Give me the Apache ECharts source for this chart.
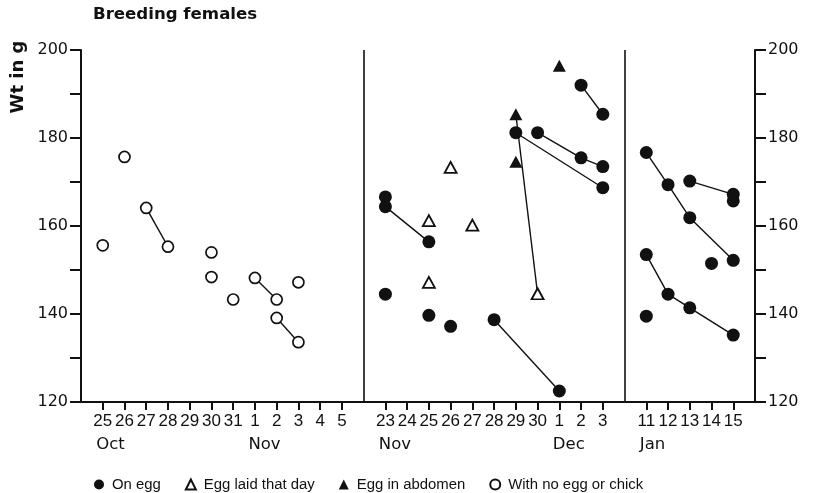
<!DOCTYPE html>
<html>
<head>
<meta charset="utf-8">
<script src="https://cdn.jsdelivr.net/npm/echarts@6/dist/echarts.min.js"></script>
<style>
html,body{margin:0;padding:0;background:#fff;}
#chart{width:813px;height:493px;}
</style>
</head>
<body>
<div id="chart"></div>
<script>
// ---- Data ----
const octNovDays = ['Oct 25','Oct 26','Oct 27','Oct 28','Oct 29','Oct 30','Oct 31','Nov 1','Nov 2','Nov 3','Nov 4','Nov 5'];
const novDecDays = ['Nov 23','Nov 24','Nov 25','Nov 26','Nov 27','Nov 28','Nov 29','Nov 30','Dec 1','Dec 2','Dec 3'];
const janDays = ['Jan 11','Jan 12','Jan 13','Jan 14','Jan 15'];
const monthNames = ['Oct','Nov','Nov','Dec','Jan'];
const monthAnchors = ['Oct 25','Nov 1','Nov 23','Dec 1','Jan 11'];
const yTicks = [120, 140, 160, 180, 200];
const yTickMarks = [120, 130, 140, 150, 160, 170, 180, 190, 200];

const onEgg = [
  ['Nov 23',166.6],['Nov 23',164.4],['Nov 23',144.5],['Nov 25',156.4],['Nov 25',139.7],
  ['Nov 26',137.2],['Nov 28',138.7],['Nov 29',181.2],['Nov 30',181.2],['Dec 1',122.5],
  ['Dec 2',192.0],['Dec 2',175.5],['Dec 3',185.4],['Dec 3',173.5],['Dec 3',168.7],
  ['Jan 11',176.7],['Jan 11',153.5],['Jan 11',139.5],['Jan 12',169.4],['Jan 12',144.5],
  ['Jan 13',170.2],['Jan 13',161.9],['Jan 13',141.4],['Jan 14',151.5],
  ['Jan 15',167.2],['Jan 15',165.7],['Jan 15',152.2],['Jan 15',135.2]
];
const eggLaid = [['Nov 25',161.2],['Nov 25',147.2],['Nov 26',173.3],['Nov 27',160.2],['Nov 30',144.6]];
const eggAbdomen = [['Nov 29',185.4],['Nov 29',174.6],['Dec 1',196.4]];
const noEgg = [
  ['Oct 25',155.6],['Oct 26',175.7],['Oct 27',164.1],['Oct 28',155.3],['Oct 30',154.0],
  ['Oct 30',148.4],['Oct 31',143.3],['Nov 1',148.2],['Nov 2',143.3],['Nov 2',139.1],
  ['Nov 3',147.2],['Nov 3',133.6]
];
const tracks = [
  [['Oct 27',164.1],['Oct 28',155.3]],
  [['Nov 1',148.2],['Nov 2',143.3]],
  [['Nov 2',139.1],['Nov 3',133.6]],
  [['Nov 23',164.4],['Nov 25',156.4]],
  [['Nov 28',138.7],['Dec 1',122.5]],
  [['Nov 29',185.4],['Nov 30',144.6]],
  [['Nov 29',181.2],['Dec 3',168.7]],
  [['Nov 30',181.2],['Dec 2',175.5],['Dec 3',173.5]],
  [['Dec 2',192.0],['Dec 3',185.4]],
  [['Jan 11',176.7],['Jan 12',169.4],['Jan 13',161.9],['Jan 15',152.2]],
  [['Jan 13',170.2],['Jan 15',167.2]],
  [['Jan 11',153.5],['Jan 12',144.5],['Jan 13',141.4],['Jan 15',135.2]]
];

// ---- Build slot scale (panels separated by one empty slot) ----
const panels = [octNovDays, novDecDays, janDays];
const slotOf = {};
const slotLabel = {};
const separators = [];
let s = 1;
panels.forEach((p, i) => {
  p.forEach(d => { slotOf[d] = s; slotLabel[s] = d.split(' ')[1]; s++; });
  if (i < panels.length - 1) separators.push(s);
  s++;
});
const xMax = s - 1;
const tickSlots = Object.keys(slotLabel).map(Number);
const MONTH_SHIFT = -0.3;
const monthSlots = monthAnchors.map(d => slotOf[d] + MONTH_SHIFT);
const conv = arr => arr.map(([d, v]) => [slotOf[d], v]);

const BLACK = '#111';
const chart = echarts.init(document.getElementById('chart'), null, {renderer: 'canvas'});

const yAxisCommon = {
  type: 'value', min: 120, max: 200, interval: 20,
  axisLine: {show: true, onZero: false, lineStyle: {color: BLACK, width: 2}},
  axisTick: {show: true, inside: false, length: 11, lineStyle: {color: BLACK, width: 2}, customValues: yTickMarks},
  minorTick: {show: false},
  splitLine: {show: false},
  axisLabel: {color: BLACK, fontFamily: 'DejaVu Sans', fontSize: 16, margin: 13,
    customValues: yTicks}
};

const series = [];
tracks.forEach(t => {
  series.push({
    type: 'line', data: conv(t), showSymbol: false, symbol: 'none', silent: true, z: 1,
    lineStyle: {color: BLACK, width: 1.4}, animation: false
  });
});
series[0].markLine = {
  silent: true, symbol: 'none', label: {show: false},
  lineStyle: {color: BLACK, width: 1.6, type: 'solid'},
  data: separators.map(v => ({xAxis: v}))
};
series.push({
  name: 'On egg', type: 'scatter', data: conv(onEgg), symbol: 'circle', symbolSize: 13, z: 3,
  itemStyle: {color: BLACK, opacity: 1}
});
series.push({
  name: 'Egg laid that day', type: 'scatter', data: conv(eggLaid), symbol: 'triangle', symbolSize: [12, 11], z: 3,
  itemStyle: {color: '#fff', borderColor: BLACK, borderWidth: 1.8, opacity: 1}
});
series.push({
  name: 'Egg in abdomen', type: 'scatter', data: conv(eggAbdomen), symbol: 'triangle', symbolSize: [13, 12], z: 3,
  itemStyle: {color: BLACK, opacity: 1}
});
series.push({
  name: 'With no egg or chick', type: 'scatter', data: conv(noEgg), symbol: 'circle', symbolSize: 11, z: 3,
  itemStyle: {color: '#fff', borderColor: BLACK, borderWidth: 1.7, opacity: 1}
});

const option = {
  animation: false,
  backgroundColor: '#fff',
  grid: {left: 81, right: 58, top: 50, bottom: 91, containLabel: false},
  xAxis: [{
    type: 'value', min: 0, max: xMax,
    axisLine: {show: true, onZero: false, lineStyle: {color: BLACK, width: 2}},
    axisTick: {show: true, inside: false, length: 8, lineStyle: {color: BLACK, width: 2}, customValues: tickSlots},
    axisLabel: {color: BLACK, fontFamily: 'Liberation Sans', fontSize: 17, margin: 11,
      customValues: tickSlots, formatter: v => slotLabel[Math.round(v)] || ''},
    splitLine: {show: false}
  }, {
    type: 'value', min: 0, max: xMax, position: 'bottom', gridIndex: 0,
    axisLine: {show: false, onZero: false}, axisTick: {show: false}, splitLine: {show: false},
    axisLabel: {color: BLACK, fontFamily: 'DejaVu Sans', fontSize: 16.5, margin: 34, align: 'left',
      customValues: monthSlots,
      formatter: v => { const i = monthSlots.findIndex(m => Math.abs(m - v) < 0.01); return i >= 0 ? monthNames[i] : ''; }}
  }],
  yAxis: [
    Object.assign({}, yAxisCommon, {position: 'left'}),
    Object.assign({}, yAxisCommon, {position: 'right'})
  ],
  legend: {
    left: 89, top: 472, itemWidth: 10, itemHeight: 10, itemGap: 24,
    textStyle: {color: BLACK, fontFamily: 'Liberation Sans', fontSize: 14.9, padding: [0, 0, 0, 3]},
    data: ['On egg', 'Egg laid that day', 'Egg in abdomen', 'With no egg or chick'],
    selectedMode: false
  },
  graphic: [
    {type: 'text', left: 93, top: 6, style: {text: 'Breeding females', fill: BLACK,
      font: 'bold 16.6px "DejaVu Sans"'}},
    {type: 'text', x: 18, y: 77, rotation: Math.PI / 2,
      style: {text: 'Wt in g', fill: BLACK, font: 'bold 18px "DejaVu Sans"', align: 'center', verticalAlign: 'middle'}}
  ],
  series: series
};
chart.setOption(option);
</script>
</body>
</html>
